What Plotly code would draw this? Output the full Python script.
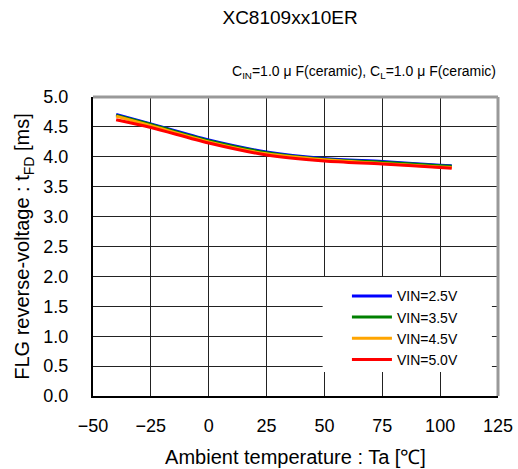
import plotly.graph_objects as go

temps = [-40, -25, 0, 25, 50, 75, 100, 105]
vin_25 = [4.71, 4.55, 4.28, 4.08, 3.97, 3.92, 3.86, 3.85]
vin_35 = [4.69, 4.54, 4.27, 4.07, 3.96, 3.91, 3.85, 3.84]
vin_45 = [4.68, 4.52, 4.25, 4.05, 3.95, 3.89, 3.83, 3.82]
vin_50 = [4.62, 4.49, 4.23, 4.03, 3.93, 3.88, 3.82, 3.81]
names = ["VIN=2.5V", "VIN=3.5V", "VIN=4.5V", "VIN=5.0V"]
colors = ["#0000FF", "#008000", "#FFA500", "#FF0000"]
series = [vin_25, vin_35, vin_45, vin_50]

x_ticks = [-50, -25, 0, 25, 50, 75, 100, 125]
y_ticks = [0.0, 0.5, 1.0, 1.5, 2.0, 2.5, 3.0, 3.5, 4.0, 4.5, 5.0]

FONT = "Liberation Sans, Arial, sans-serif"

fig = go.Figure()
for name, color, vals in zip(names, colors, series):
    fig.add_trace(go.Scatter(x=temps, y=vals, name=name, mode="lines",
                             line=dict(color=color, width=3, shape="spline", smoothing=0.8)))

fig.update_layout(
    width=518, height=469,
    margin=dict(l=93, r=20, t=97, b=73),
    paper_bgcolor="white", plot_bgcolor="white",
    font=dict(family=FONT, color="black"),
    title=dict(text="XC8109xx10ER", x=0.56, xanchor="center", y=0.962, yanchor="middle",
               font=dict(size=19, family=FONT)),
    showlegend=True,
    legend=dict(x=0.627, xanchor="left", y=0.387, yanchor="top",
                bgcolor="rgba(0,0,0,0)", borderwidth=0, font=dict(size=14, family=FONT),
                tracegroupgap=0, itemwidth=40),
    annotations=[dict(text="C<sub>IN</sub>=1.0 \u03bc F(ceramic), C<sub>L</sub>=1.0 \u03bc F(ceramic)",
                      xref="paper", yref="paper", x=1.0, y=1.0, yshift=25,
                      xanchor="right", yanchor="middle", showarrow=False,
                      font=dict(size=14, family=FONT))],
    shapes=[
        dict(type="rect", xref="paper", yref="paper", x0=0.567, x1=0.985, y0=0.08, y1=0.398,
             fillcolor="white", line=dict(width=0), layer="above"),
        dict(type="line", xref="paper", yref="paper", x0=0, x1=1, y0=1, y1=1,
             line=dict(color="#999999", width=3)),
        dict(type="line", xref="paper", yref="paper", x0=1, x1=1, y0=0, y1=1,
             line=dict(color="#999999", width=3)),
    ],
)

fig.update_xaxes(range=[-50, 125], tickvals=x_ticks, ticktext=[("\u2212" + str(-v)) if v < 0 else str(v) for v in x_ticks],
                 showgrid=True, gridcolor="#222222", gridwidth=1, automargin=False,
                 showline=True, linecolor="black", linewidth=2, zeroline=False,
                 ticks="", ticklabelstandoff=12, tickfont=dict(size=18, family=FONT),
                 title=dict(text="Ambient temperature : Ta [\u2103]", font=dict(size=20, family=FONT), standoff=15))
fig.update_yaxes(range=[0, 5], tickvals=y_ticks, ticktext=[f"{v:.1f}" for v in y_ticks],
                 showgrid=True, gridcolor="#222222", gridwidth=1, automargin=False,
                 showline=True, linecolor="black", linewidth=2, zeroline=False,
                 ticks="", ticklabelstandoff=19, tickfont=dict(size=18, family=FONT),
                 title=dict(text="FLG reverse-voltage : t<sub>FD</sub> [ms]", font=dict(size=20, family=FONT), standoff=8))

fig.write_html("out.html", config={"displayModeBar": False},
               post_script="document.body.style.margin='0';")
